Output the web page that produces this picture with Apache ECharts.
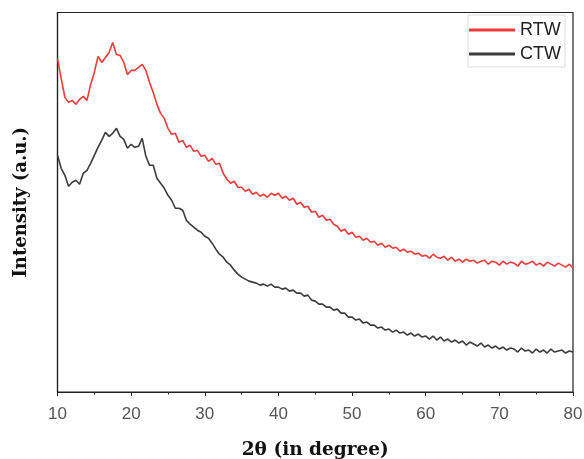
<!DOCTYPE html>
<html>
<head>
<meta charset="utf-8">
<script src="https://cdn.jsdelivr.net/npm/echarts@6/dist/echarts.min.js"></script>
<style>html,body{margin:0;padding:0;background:#fff}#c{width:584px;height:459px}</style>
</head>
<body>
<div id="c"></div>
<script>
var twoTheta = [];
for (var i = 0; i <= 140; i++) twoTheta.push(10 + i * 0.5);

var seriesNames = ['RTW', 'CTW'];

var rtw = [
334,314,295,290,292,288,293,296,292,308,
320,336,330,335,340,350,338,337,330,318,
322,322,325,328,322,310,300,288,279,274,
264,258,259,250,252,245,247,241,242,236,
237,231,234,228,229,219,213,209,211,205,
205,201,203,198,200,196,198,195,199,197,
199,194,196,192,194,188,190,185,186,180,
181,175,177,172,173,168,166,161,163,158,
160,155,156,152,154,150,151,147,149,145,
147,144,145,141,143,140,141,138,139,136,
137,134,138,135,134,136,132,135,131,133,
130,133,131,132,129,131,132,128,131,130,
127,131,128,130,129,126,131,128,129,131,
127,129,126,130,128,126,129,127,125,128,
124
];

var ctw = [
237,224,217,206,210,212,208,219,222,229,
237,245,252,260,256,259,264,256,253,244,
248,245,246,254,236,227,227,214,209,204,
197,192,184,184,182,172,168,165,162,160,
156,154,149,143,138,135,130,127,122,118,
115,113,111,110,109,107,108,106,108,105,
105,103,104,101,102,99,99,96,97,92,
91,88,88,85,85,82,83,79,79,75,
75,72,73,69,70,67,67,64,65,62,
63,60,62,59,60,57,59,56,58,55,
56,53,56,52,55,51,53,50,52,49,
51,47,50,48,46,49,45,47,44,46,
43,45,42,44,43,40,44,41,42,39,
43,40,42,39,43,40,41,42,39,41,
40
];

function pairs(xs, ys) {
  var out = [];
  for (var i = 0; i < xs.length; i++) out.push([xs[i], ys[i]]);
  return out;
}

var chart = echarts.init(document.getElementById('c'), null, {renderer: 'canvas'});
chart.setOption({
  animation: false,
  backgroundColor: '#fff',
  grid: {
    left: 57.5, right: 11, top: 12.5, bottom: 67,
    containLabel: false, outerBoundsMode: 'none',
    show: true, borderColor: '#222', borderWidth: 1.2, backgroundColor: 'transparent'
  },
  legend: {
    orient: 'vertical',
    left: 468, top: 15,
    padding: [6, 4, 4, 1],
    itemGap: 6,
    itemWidth: 46, itemHeight: 3,
    icon: 'rect',
    borderColor: '#ddd', borderWidth: 1,
    textStyle: {fontFamily: 'Liberation Sans, Arial, sans-serif', fontSize: 18, color: '#222', lineHeight: 18},
    data: seriesNames
  },
  xAxis: {
    type: 'value', min: 10, max: 80, interval: 10,
    name: '2θ (in degree)', nameLocation: 'middle', nameGap: 49,
    nameTextStyle: {fontFamily: 'DejaVu Serif, serif', fontWeight: 'bold', fontSize: 18.5, color: '#111'},
    axisLine: {show: true, lineStyle: {color: '#222', width: 1.2}},
    axisTick: {show: true, inside: false, length: 4, lineStyle: {color: '#222'}},
    minorTick: {show: true, splitNumber: 2, length: 2.5, lineStyle: {color: '#222'}},
    splitLine: {show: false},
    axisLabel: {fontFamily: 'Liberation Sans, Arial, sans-serif', fontSize: 17, color: '#555', margin: 14}
  },
  yAxis: {
    type: 'value', min: 0, max: 380,
    name: 'Intensity (a.u.)', nameLocation: 'middle', nameGap: 27,
    nameTextStyle: {fontFamily: 'DejaVu Serif, serif', fontWeight: 'bold', fontSize: 18, color: '#111'},
    axisLine: {show: true, lineStyle: {color: '#222', width: 1.2}},
    axisTick: {show: false},
    axisLabel: {show: false},
    splitLine: {show: false}
  },
  series: [
    {name: seriesNames[0], type: 'line', data: pairs(twoTheta, rtw), showSymbol: false, symbol: 'none',
     lineStyle: {color: '#f23a3a', width: 1.6}, itemStyle: {color: '#f23a3a'}},
    {name: seriesNames[1], type: 'line', data: pairs(twoTheta, ctw), showSymbol: false, symbol: 'none',
     lineStyle: {color: '#3c3c3c', width: 1.6}, itemStyle: {color: '#3c3c3c'}}
  ]
});
</script>
</body>
</html>
